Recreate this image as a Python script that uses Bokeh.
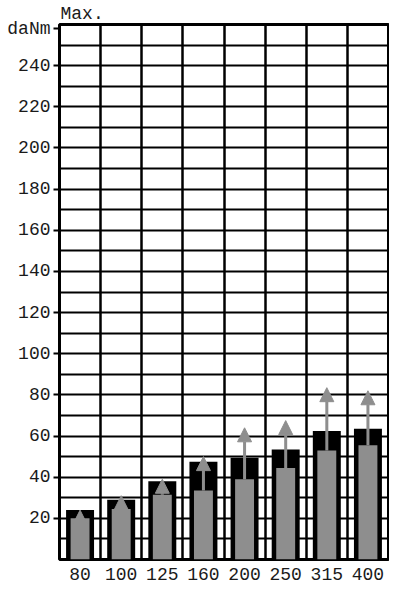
from bokeh.plotting import figure
from bokeh.models import ColumnDataSource, FixedTicker, Range1d, Arrow, NormalHead
from bokeh.embed import file_html
from bokeh.resources import INLINE

# ---- data ----
categories = ["80", "100", "125", "160", "200", "250", "315", "400"]
max_torque = [24, 29, 38, 47.5, 49.5, 53.5, 62.5, 63.5]        # black bars
nominal_torque = [20, 24.5, 31.5, 33.5, 39, 44.5, 53, 55.5]     # grey bars
peak_torque = [24, 31, 39, 50, 64, 67.5, 83.5, 82]              # arrow tips
y_tick_values = [20, 40, 60, 80, 100, 120, 140, 160, 180, 200, 220, 240]
y_grid_step = 10
y_max = 260
unit_label = "daNm"
unit_label_at = 258
max_label = "Max."

GREY = "#8e8e8e"
FONT = "Liberation Mono"
TXT = "#1a1a1a"

pos = list(range(1, len(categories) + 1))
src = ColumnDataSource(dict(x=pos, cat=categories, mx=max_torque,
                            nom=nominal_torque, pk=peak_torque))

p = figure(width=389, height=584, title=max_label,
           x_range=Range1d(0.5, len(categories) + 0.5),
           y_range=Range1d(0, y_max),
           output_backend="svg", toolbar_location=None,
           min_border_left=59, min_border_right=1,
           min_border_top=22, min_border_bottom=25)

p.title.align = "left"
p.title.offset = 1
p.title.standoff = 2
p.title.text_font = FONT
p.title.text_font_size = "18px"
p.title.text_font_style = "normal"
p.title.text_color = TXT

p.background_fill_color = "white"
p.border_fill_color = "white"
p.outline_line_color = "black"
p.outline_line_width = 3

# grid
p.xgrid.ticker = FixedTicker(ticks=[i + 0.5 for i in range(len(categories) + 1)])
p.ygrid.ticker = FixedTicker(ticks=list(range(y_grid_step, y_max, y_grid_step)))
for g in (p.xgrid, p.ygrid):
    g.grid_line_color = "black"
    g.grid_line_alpha = 1.0
p.xgrid.grid_line_width = 2.5
p.ygrid.grid_line_width = 2

# x axis
p.xaxis.ticker = FixedTicker(ticks=pos)
p.xaxis.major_label_overrides = {i: c for i, c in zip(pos, categories)}
p.xaxis.axis_line_color = None
p.xaxis.major_tick_line_color = None
p.xaxis.minor_tick_line_color = None
p.xaxis.major_label_standoff = 2

# y axis (unit label shown as the top label of the axis)
p.yaxis.ticker = FixedTicker(ticks=y_tick_values + [unit_label_at])
p.yaxis.major_label_overrides = {unit_label_at: unit_label}
p.yaxis.axis_line_color = None
p.yaxis.major_tick_out = 6
p.yaxis.major_tick_in = 0
p.yaxis.major_tick_line_width = 2
p.yaxis.major_tick_line_color = "black"
p.yaxis.minor_tick_line_color = None
p.yaxis.major_label_standoff = 3

for ax in (p.xaxis, p.yaxis):
    ax.major_label_text_font = FONT
    ax.major_label_text_font_size = "18px"
    ax.major_label_text_color = TXT

# bars
p.vbar(x="x", top="mx", bottom=0, width=0.68, source=src,
       fill_color="black", line_color=None)
p.vbar(x="x", top="nom", bottom=0, width=0.46, source=src,
       fill_color=GREY, line_color=None)

# arrows
p.add_layout(Arrow(end=NormalHead(size=14, fill_color=GREY, line_color=GREY, line_width=1),
                   x_start="x", y_start="nom", x_end="x", y_end="pk", source=src,
                   line_color=GREY, line_width=3))

open("out.html", "w").write(file_html(p, INLINE))
